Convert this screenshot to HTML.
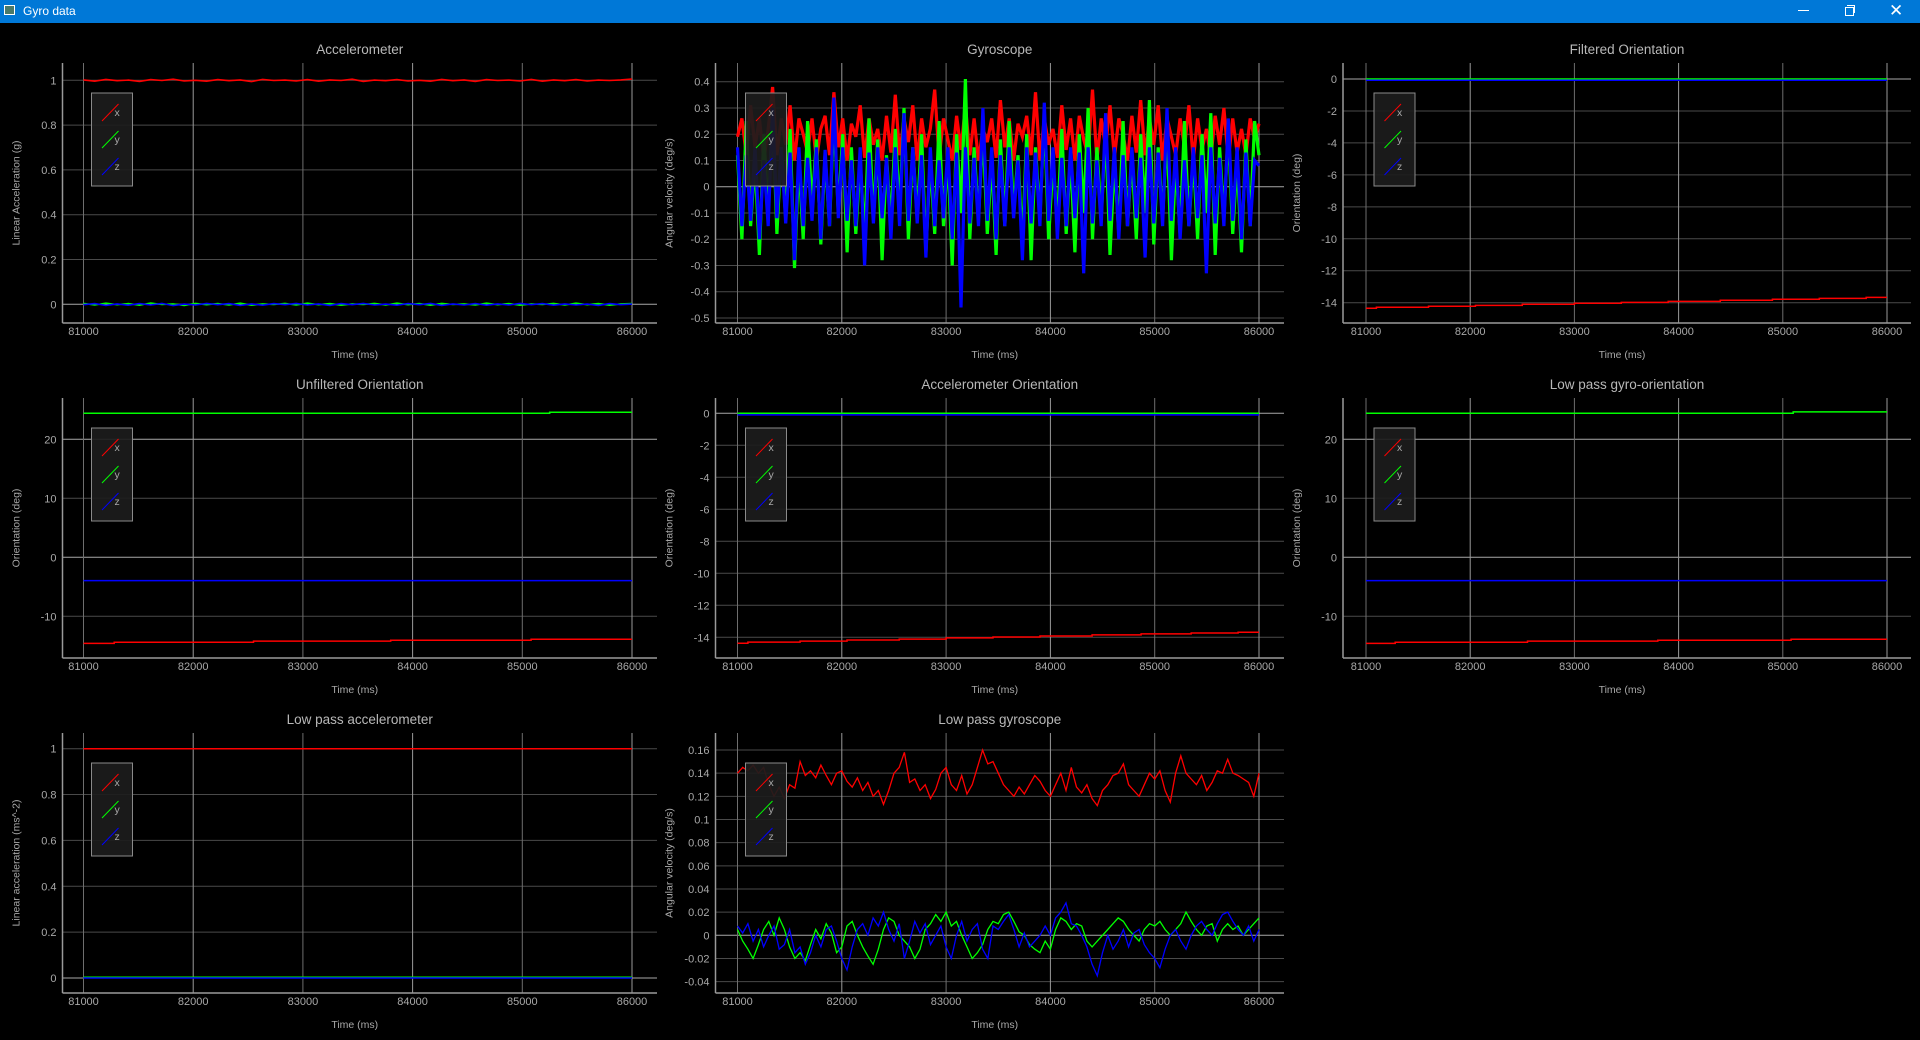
<!DOCTYPE html>
<html><head><meta charset="utf-8"><title>Gyro data</title>
<style>
html,body{margin:0;padding:0;background:#000;width:1920px;height:1040px;overflow:hidden;font-family:"Liberation Sans",sans-serif;}
#titlebar{position:absolute;left:0;top:0;width:1920px;height:23px;background:#0078d7;color:#fff;font-size:12px;}
#titlebar .t{position:absolute;left:23px;top:4px;}
#titlebar .ic{position:absolute;left:4px;top:5px;width:11px;height:10px;border:1px solid #fff;background:#4a7a6a;box-sizing:border-box;}
.wc{position:absolute;top:0;height:23px;width:40px;}
svg{position:absolute;left:0;top:0;}
</style></head>
<body>
<div id="titlebar">
  <div class="ic"></div>
  <div class="t">Gyro data</div>
  <div class="wc" style="left:1784px"><div style="position:absolute;left:14px;top:10px;width:11px;height:1px;background:#fff"></div></div>
  <div class="wc" style="left:1829px"><div style="position:absolute;left:16px;top:7px;width:7px;height:7px;border:1px solid #fff"></div><div style="position:absolute;left:18px;top:5px;width:7px;height:7px;border-top:1px solid #fff;border-right:1px solid #fff"></div></div>
  <div class="wc" style="left:1875px"><div style="position:absolute;left:14px;top:1px;color:#fff;font-size:17px;line-height:20px">&#x2715;</div></div>
</div>
<svg id="chart" width="1920" height="1040"></svg>
<script>
// ---------- DATA ----------
const xTicks = [81000, 82000, 83000, 84000, 85000, 86000];
const tStart = 81000;
const tEnd = 86000;
const seriesNames = ['x', 'y', 'z'];

const accTicks = [0, 0.2, 0.4, 0.6, 0.8, 1];
const accTickLabels = ['0', '0.2', '0.4', '0.6', '0.8', '1'];
const accX = [1.002,0.996,1.004,0.998,1.001,0.995,1.003,0.999,1.005,0.997,1.000,0.996,1.003,0.998,1.002,0.994,1.004,0.999,1.001,0.997,1.003,0.996,1.002,0.999,1.005,0.995,1.001,0.998,1.003,0.997,1.000,0.996,1.004,0.998,1.002,0.995,1.003,0.999,1.001,0.997,1.004,0.996,1.002,0.998,1.003,0.997,1.001,0.999,1.002,1.006];
const accY = [0.004,-0.003,0.005,-0.002,0.003,-0.004,0.006,-0.001,0.002,-0.005,0.004,-0.002,0.003,-0.003,0.005,-0.004,0.002,-0.001,0.004,-0.003,0.005,-0.002,0.003,-0.004,0.002,-0.001,0.004,-0.003,0.005,-0.002,0.003,-0.004,0.004,-0.001,0.002,-0.003,0.005,-0.002,0.003,-0.004,0.002,-0.001,0.004,-0.003,0.005,-0.002,0.003,-0.004,0.002,0.003];
const accZ = [-0.002,0.003,-0.005,0.002,-0.004,0.003,-0.003,0.004,-0.006,0.001,-0.003,0.004,-0.002,0.003,-0.005,0.002,-0.004,0.003,-0.002,0.004,-0.003,0.002,-0.005,0.003,-0.002,0.004,-0.003,0.001,-0.004,0.003,-0.002,0.004,-0.005,0.002,-0.003,0.003,-0.004,0.002,-0.003,0.004,-0.002,0.003,-0.004,0.002,-0.003,0.001,-0.005,0.003,-0.002,0.001];

const gyroTicks = [-0.5,-0.4,-0.3,-0.2,-0.1,0,0.1,0.2,0.3,0.4];
const gyroTickLabels = ['-0.5','-0.4','-0.3','-0.2','-0.1','0','0.1','0.2','0.3','0.4'];
const gyroX = [0.19,0.26,0.12,0.31,0.15,0.26,0.10,0.22,0.38,0.12,0.26,0.16,0.31,0.10,0.26,0.20,0.13,0.26,0.10,0.22,0.27,0.12,0.36,0.15,0.26,0.10,0.24,0.19,0.31,0.11,0.26,0.16,0.22,0.10,0.27,0.13,0.35,0.12,0.26,0.17,0.31,0.10,0.26,0.15,0.22,0.37,0.11,0.26,0.18,0.10,0.27,0.14,0.31,0.12,0.26,0.10,0.22,0.17,0.26,0.11,0.33,0.15,0.26,0.10,0.24,0.19,0.27,0.12,0.36,0.10,0.26,0.16,0.22,0.11,0.31,0.14,0.26,0.10,0.27,0.18,0.12,0.37,0.10,0.26,0.15,0.31,0.11,0.26,0.20,0.10,0.27,0.13,0.33,0.12,0.26,0.16,0.31,0.10,0.26,0.19,0.12,0.26,0.15,0.31,0.10,0.26,0.14,0.22,0.11,0.27,0.16,0.30,0.10,0.26,0.13,0.22,0.12,0.26,0.18,0.24];
const gyroY = [0.12,-0.20,0.25,-0.15,0.10,-0.26,0.20,-0.10,0.30,-0.18,0.15,-0.12,0.22,-0.31,0.10,-0.20,0.25,-0.08,0.18,-0.22,0.12,-0.15,0.28,-0.10,0.20,-0.25,0.15,-0.18,0.10,-0.20,0.26,-0.12,0.18,-0.28,0.12,-0.15,0.22,-0.10,0.30,-0.20,0.15,-0.12,0.20,-0.25,0.10,-0.18,0.25,-0.15,0.12,-0.30,0.20,-0.10,0.41,-0.20,0.15,-0.12,0.22,-0.18,0.10,-0.26,0.18,-0.15,0.25,-0.10,0.12,-0.22,0.20,-0.28,0.15,-0.12,0.28,-0.20,0.10,-0.15,0.22,-0.18,0.12,-0.25,0.20,-0.10,0.30,-0.20,0.15,-0.12,0.22,-0.26,0.10,-0.18,0.25,-0.15,0.12,-0.20,0.20,-0.10,0.33,-0.22,0.15,-0.12,0.22,-0.28,0.10,-0.18,0.25,-0.15,0.12,-0.20,0.20,-0.10,0.28,-0.26,0.15,-0.12,0.22,-0.18,0.10,-0.25,0.18,-0.15,0.25,0.12];
const gyroZ = [0.15,-0.15,0.12,-0.13,0.15,-0.20,0.10,-0.15,0.30,-0.12,0.15,-0.14,0.13,-0.28,0.15,-0.15,0.11,-0.13,0.15,-0.20,0.14,-0.15,0.34,-0.12,0.15,-0.13,0.10,-0.15,0.15,-0.30,0.13,-0.14,0.15,-0.12,0.11,-0.20,0.15,-0.15,0.28,-0.13,0.15,-0.14,0.12,-0.27,0.15,-0.15,0.10,-0.12,0.15,-0.20,0.13,-0.46,0.15,-0.14,0.11,-0.15,0.30,-0.13,0.15,-0.20,0.12,-0.15,0.15,-0.12,0.10,-0.28,0.15,-0.14,0.13,-0.15,0.32,-0.13,0.15,-0.20,0.11,-0.15,0.15,-0.12,0.13,-0.33,0.15,-0.14,0.10,-0.15,0.28,-0.13,0.15,-0.20,0.12,-0.15,0.15,-0.12,0.11,-0.27,0.15,-0.14,0.13,-0.15,0.30,-0.13,0.15,-0.20,0.10,-0.15,0.15,-0.12,0.12,-0.33,0.15,-0.14,0.11,-0.15,0.26,-0.13,0.15,-0.20,0.13,-0.15,0.10,0.08];

const oriTicks = [-14,-12,-10,-8,-6,-4,-2,0];
const oriTickLabels = ['-14','-12','-10','-8','-6','-4','-2','0'];
const filtXTimes = [81000,81100,81600,82050,82500,83000,83450,83900,84400,84900,85350,85800];
const filtXVals = [-14.35,-14.29,-14.22,-14.17,-14.10,-14.04,-13.98,-13.92,-13.85,-13.79,-13.73,-13.67];
const filtYTimes = [81000];
const filtYVals = [0];
const filtZTimes = [81000];
const filtZVals = [-0.08];

const unfTicks = [-10, 0, 10, 20];
const unfTickLabels = ['-10', '0', '10', '20'];
const unfXTimes = [81000,81280,82550,83800,85080];
const unfXVals = [-14.6,-14.4,-14.2,-14.05,-13.9];
const unfYTimes = [81000,85250];
const unfYVals = [24.4,24.6];
const unfZTimes = [81000];
const unfZVals = [-3.95];

const accOriXTimes = [81000,81100,81600,82050,82550,83000,83450,83900,84400,84870,85350,85800];
const accOriXVals = [-14.37,-14.3,-14.24,-14.17,-14.11,-14.04,-13.98,-13.92,-13.85,-13.79,-13.73,-13.69];
const accOriYTimes = [81000];
const accOriYVals = [0];
const accOriZTimes = [81000];
const accOriZVals = [-0.1];

const lpgoXTimes = [81000,81280,82550,83800,85080];
const lpgoXVals = [-14.6,-14.4,-14.2,-14.05,-13.9];
const lpgoYTimes = [81000,85100];
const lpgoYVals = [24.4,24.65];
const lpgoZTimes = [81000];
const lpgoZVals = [-3.95];

const lpaXTimes = [81000];
const lpaXVals = [1.0];
const lpaYTimes = [81000];
const lpaYVals = [0.003];
const lpaZTimes = [81000];
const lpaZVals = [0.0];

const lpgTicks = [-0.04,-0.02,0,0.02,0.04,0.06,0.08,0.1,0.12,0.14,0.16];
const lpgTickLabels = ['-0.04','-0.02','0','0.02','0.04','0.06','0.08','0.1','0.12','0.14','0.16'];
const lpgX = [0.14,0.145,0.142,0.147,0.14,0.145,0.13,0.12,0.128,0.118,0.13,0.127,0.15,0.138,0.142,0.136,0.147,0.138,0.13,0.14,0.142,0.133,0.128,0.136,0.125,0.132,0.12,0.125,0.113,0.125,0.14,0.145,0.158,0.132,0.135,0.125,0.13,0.118,0.126,0.14,0.145,0.13,0.125,0.138,0.122,0.13,0.145,0.16,0.148,0.15,0.14,0.13,0.125,0.12,0.128,0.122,0.13,0.138,0.133,0.125,0.12,0.13,0.14,0.125,0.145,0.128,0.123,0.13,0.118,0.112,0.125,0.13,0.138,0.14,0.148,0.13,0.125,0.12,0.13,0.14,0.135,0.142,0.125,0.115,0.14,0.155,0.14,0.135,0.13,0.138,0.125,0.132,0.142,0.14,0.152,0.14,0.138,0.135,0.132,0.12,0.14];
const lpgY = [0.005,-0.005,-0.012,-0.02,-0.008,0.005,0.012,0.0,0.015,0.005,-0.01,-0.02,-0.015,-0.022,-0.008,0.005,-0.003,0.01,0.002,-0.015,-0.01,0.008,0.012,0.0,-0.01,-0.018,-0.025,-0.012,0.005,0.015,0.012,0.0,-0.005,-0.01,-0.02,-0.012,0.005,0.01,0.018,0.012,0.02,0.008,0.012,0.0,-0.01,-0.02,-0.015,-0.008,0.005,0.012,0.01,0.018,0.02,0.012,0.003,0.0,-0.008,-0.012,-0.015,-0.005,-0.012,0.005,0.015,0.012,0.005,0.01,0.008,-0.005,-0.01,-0.005,0.0,0.005,0.01,0.015,0.012,0.005,0.0,-0.005,0.005,0.01,0.008,0.012,0.005,0.0,0.005,0.01,0.02,0.012,0.005,0.0,0.008,0.01,-0.005,0.005,0.01,0.005,0.008,0.0,0.005,0.01,0.015];
const lpgZ = [0.008,0.002,0.01,-0.005,0.005,-0.01,0.0,0.008,-0.012,-0.008,0.005,-0.015,-0.01,-0.025,-0.015,0.0,-0.01,0.005,0.008,-0.005,-0.02,-0.03,-0.01,0.005,0.01,0.0,0.015,0.008,0.02,0.005,-0.005,0.01,-0.02,-0.005,0.012,0.002,0.01,-0.008,0.0,0.008,-0.01,-0.02,0.0,0.012,-0.005,0.005,0.01,-0.012,-0.02,0.008,0.005,0.012,0.018,0.005,-0.01,0.002,-0.01,-0.005,0.0,0.008,0.0,0.015,0.02,0.028,0.01,0.008,0.0,-0.01,-0.025,-0.035,-0.015,0.0,-0.012,-0.005,0.005,-0.01,0.002,0.005,-0.008,-0.015,-0.02,-0.028,-0.012,0.0,0.005,-0.005,-0.012,0.0,0.008,0.012,0.005,0.0,0.01,0.018,0.02,0.012,0.005,0.0,0.008,-0.005,0.005];

// ---------- LAYOUT ----------
const NS = 'http://www.w3.org/2000/svg';
const svg = document.getElementById('chart');
const COLS = [
  {left:62.5, right:657, x81:83.5, x86:632},
  {left:715.5, right:1284, x81:737.5, x86:1259},
  {left:1343, right:1911, x81:1366, x86:1887}
];
const ROWS = [{top:63,bottom:323},{top:398,bottom:658},{top:733,bottom:993}];
const COLORS = ['#ff0000', '#00ff00', '#0000ff'];

function mk(tag, attrs, parent){
  const e = document.createElementNS(NS, tag);
  for (const k in attrs) e.setAttribute(k, attrs[k]);
  parent.appendChild(e);
  return e;
}

function panel(p){
  const c = COLS[p.col], r = ROWS[p.row];
  const g = mk('g', {}, svg);
  
  
  const xs = v => c.x81 + (v - tStart) / (tEnd - tStart) * (c.x86 - c.x81);
  const ys = v => p.yPix0 + (v - p.yRef0) / (p.yRef1 - p.yRef0) * (p.yPix1 - p.yPix0);

  p.ticks.forEach((t, i) => {
    const y = ys(t);
    const major = p.majors.indexOf(t) >= 0;
    const ln = mk('line', {x1:c.left, x2:c.right, y1:y, y2:y, stroke: major ? '#a8a8a8' : '#4a4a4a', 'stroke-width':1}, g);
    
    
    const tx = mk('text', {x:c.left-6, y:y+4, fill:'#a8a8a8', 'font-size':11, 'text-anchor':'end'}, g);
    tx.textContent = p.labels[i];
    
    
  });
  xTicks.forEach((t, i) => {
    const x = xs(t);
    const ln = mk('line', {x1:x, x2:x, y1:r.top, y2:r.bottom, stroke: (i % 2 === 1) ? '#9a9a9a' : '#6e6e6e', 'stroke-width':1}, g);
    
    
    const tx = mk('text', {x:x, y:r.bottom+12, fill:'#a8a8a8', 'font-size':11, 'text-anchor':'middle'}, g);
    tx.textContent = String(t);
    
    
  });
  const ax = mk('line', {x1:c.left, x2:c.left, y1:r.top, y2:r.bottom, stroke:'#9a9a9a', 'stroke-width':1.5}, g);
  
  
  const bx = mk('line', {x1:c.left, x2:c.right, y1:r.bottom, y2:r.bottom, stroke:'#9a9a9a', 'stroke-width':1.5}, g);
  
  

  const clipId = 'clip-' + p.slug;
  const cp = mk('clipPath', {id:clipId}, g);
  mk('rect', {x:c.left, y:r.top, width:c.right-c.left, height:r.bottom-r.top}, cp);
  const sg = mk('g', {'clip-path':'url(#' + clipId + ')'}, g);
  p.series.forEach((s, si) => {
    let d = '';
    if (s.times) {
      for (let i = 0; i < s.times.length; i++) {
        const x = xs(s.times[i]), y = ys(s.vals[i]);
        d += (i === 0 ? 'M' : 'L') + x.toFixed(1) + ' ' + y.toFixed(1);
        const xn = xs(i + 1 < s.times.length ? s.times[i+1] : tEnd);
        d += 'L' + xn.toFixed(1) + ' ' + y.toFixed(1);
      }
    } else {
      const n = s.vals.length;
      for (let i = 0; i < n; i++) {
        const t = tStart + (tEnd - tStart) * i / (n - 1);
        d += (i === 0 ? 'M' : 'L') + xs(t).toFixed(1) + ' ' + ys(s.vals[i]).toFixed(1);
      }
    }
    const path = mk('path', {d:d, fill:'none', stroke:COLORS[si], 'stroke-width':p.sw || 1.5, 'stroke-linejoin':'miter'}, sg);
    
    
  });

  const ti = mk('text', {x:(c.left+c.right)/2, y:r.top-9, fill:'#b8b8b8', 'font-size':13.5, 'text-anchor':'middle'}, g);
  ti.textContent = p.title;
  
  
  const xt = mk('text', {x:(c.left+c.right)/2 - 5, y:r.bottom+35, fill:'#a8a8a8', 'font-size':10.5, 'text-anchor':'middle'}, g);
  xt.textContent = 'Time (ms)';
  
  
  const cy = (r.top + r.bottom) / 2;
  const yt = mk('text', {x:0, y:0, fill:'#a8a8a8', 'font-size':10.5, 'text-anchor':'middle', transform:'translate(' + (c.left-43) + ',' + cy + ') rotate(-90)'}, g);
  yt.textContent = p.ylabel;
  
  

  const lx = c.x81 + 8, ly = r.top + 30;
  const lg = mk('g', {}, g);
  
  
  mk('rect', {x:lx, y:ly, width:41, height:93, fill:'#1c1c1c', 'fill-opacity':0.92, stroke:'#8a8a8a', 'stroke-width':1}, lg);
  seriesNames.forEach((nm, i) => {
    const ent = mk('g', {}, lg);
    
    
    const by = ly + 28 + i * 27;
    mk('line', {x1:lx+10.5, y1:by, x2:lx+27, y2:by-17, stroke:COLORS[i], 'stroke-width':1}, ent);
    const tx = mk('text', {x:lx+23, y:by-5, fill:'#a8a8a8', 'font-size':10.5}, ent);
    tx.textContent = nm;
  });
}

panel({slug:'accelerometer', col:0, row:0, title:'Accelerometer', ylabel:'Linear Acceleration (g)',
  ticks:accTicks, labels:accTickLabels, majors:[0], yRef0:0, yPix0:304.3, yRef1:1, yPix1:80.3,
  series:[{vals:accX},{vals:accY},{vals:accZ}], sw:1.6});
panel({slug:'gyroscope', col:1, row:0, title:'Gyroscope', ylabel:'Angular velocity (deg/s)',
  ticks:gyroTicks, labels:gyroTickLabels, majors:[0], yRef0:0, yPix0:186.7, yRef1:0.4, yPix1:81.7,
  series:[{vals:gyroX},{vals:gyroY},{vals:gyroZ}], sw:3.2});
panel({slug:'filtered-orientation', col:2, row:0, title:'Filtered Orientation', ylabel:'Orientation (deg)',
  ticks:oriTicks, labels:oriTickLabels, majors:[0], yRef0:0, yPix0:79, yRef1:-14, yPix1:302.7,
  series:[{times:filtXTimes, vals:filtXVals},{times:filtYTimes, vals:filtYVals},{times:filtZTimes, vals:filtZVals}]});
panel({slug:'unfiltered-orientation', col:0, row:1, title:'Unfiltered Orientation', ylabel:'Orientation (deg)',
  ticks:unfTicks, labels:unfTickLabels, majors:[0,20], yRef0:0, yPix0:557.3, yRef1:20, yPix1:439.3,
  series:[{times:unfXTimes, vals:unfXVals},{times:unfYTimes, vals:unfYVals},{times:unfZTimes, vals:unfZVals}]});
panel({slug:'accelerometer-orientation', col:1, row:1, title:'Accelerometer Orientation', ylabel:'Orientation (deg)',
  ticks:oriTicks, labels:oriTickLabels, majors:[0], yRef0:0, yPix0:413.3, yRef1:-14, yPix1:637.3,
  series:[{times:accOriXTimes, vals:accOriXVals},{times:accOriYTimes, vals:accOriYVals},{times:accOriZTimes, vals:accOriZVals}]});
panel({slug:'low-pass-gyro-orientation', col:2, row:1, title:'Low pass gyro-orientation', ylabel:'Orientation (deg)',
  ticks:unfTicks, labels:unfTickLabels, majors:[0,20], yRef0:0, yPix0:557.3, yRef1:20, yPix1:439.3,
  series:[{times:lpgoXTimes, vals:lpgoXVals},{times:lpgoYTimes, vals:lpgoYVals},{times:lpgoZTimes, vals:lpgoZVals}]});
panel({slug:'low-pass-accelerometer', col:0, row:2, title:'Low pass accelerometer', ylabel:'Linear acceleration (ms^-2)',
  ticks:accTicks, labels:accTickLabels, majors:[0], yRef0:0, yPix0:978, yRef1:1, yPix1:748.7,
  series:[{times:lpaXTimes, vals:lpaXVals},{times:lpaYTimes, vals:lpaYVals},{times:lpaZTimes, vals:lpaZVals}]});
panel({slug:'low-pass-gyroscope', col:1, row:2, title:'Low pass gyroscope', ylabel:'Angular velocity (deg/s)',
  ticks:lpgTicks, labels:lpgTickLabels, majors:[0], yRef0:0, yPix0:935.3, yRef1:0.16, yPix1:750,
  series:[{vals:lpgX},{vals:lpgY},{vals:lpgZ}], sw:1.3});
</script>
</body></html>
